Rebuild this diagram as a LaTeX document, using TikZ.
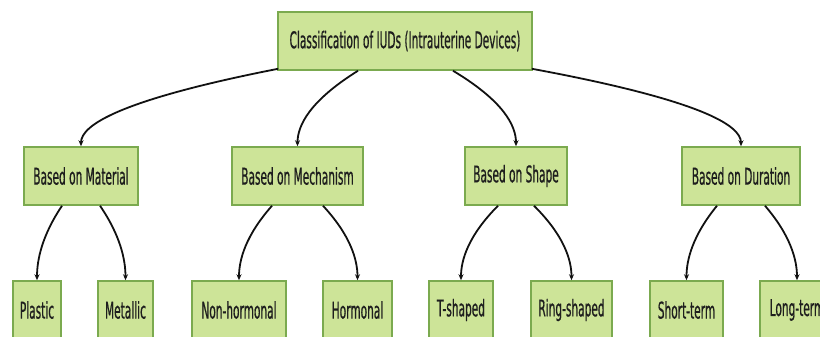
\documentclass[tikz,border=0pt]{standalone}
\usepackage{fontspec}
\usetikzlibrary{calc,arrows.meta}
\newfontfamily\boxfont{DejaVu Sans}[FakeStretch=0.46,FakeBold=0.6]
\definecolor{boxfill}{HTML}{CDE498}
\definecolor{boxline}{HTML}{7BAA4F}
\definecolor{boxtext}{HTML}{1E1E1E}
\definecolor{edgecol}{HTML}{111111}
\tikzset{
  box/.style={draw=boxline, fill=boxfill, line width=1.5pt, rectangle,
    minimum height=58pt, inner sep=0pt, text=boxtext,
    font=\boxfont\fontsize{23}{27}\selectfont},
  edge/.style={draw=edgecol, line width=1.8pt, -{Stealth[length=6pt,width=5pt]}}
}
\newcommand\curveedge[2]{%
  \path ($(#1)!0.5!(#2)$) coordinate (tmpm);
  \path (#2 |- tmpm) coordinate (tmpk);
  \draw[edge] (#1) .. controls ($(#1)!0.8!(tmpk)$) and ($(#2)!0.55!(tmpk)$) .. (#2);
}
\begin{document}
\begin{tikzpicture}[x=1pt,y=-1pt]
\useasboundingbox (0,0) rectangle (820,337);
\clip (0,0) rectangle (820,337);
\fill[white] (0,0) rectangle (820,337);
% root
\node[box, minimum width=254pt] (root) at (405,41) {Classification of IUDs (Intrauterine Devices)};
% level 2
\node[box, minimum width=114pt] (mat) at (81,176) {Based on Material};
\node[box, minimum width=131pt] (mech) at (297.5,176) {Based on Mechanism};
\node[box, minimum width=102pt] (shape) at (516,176) {Based on Shape};
\node[box, minimum width=118pt] (dur) at (741,176) {Based on Duration};
% level 3
\node[box, minimum width=48pt] (plastic) at (37,310) {Plastic};
\node[box, minimum width=55pt] (metal) at (125.5,310) {Metallic};
\node[box, minimum width=94pt] (nonh) at (239,310) {Non-hormonal};
\node[box, minimum width=69pt] (horm) at (357.5,310) {Hormonal};
\node[box, minimum width=64pt] (tsh) at (461,310) {T-shaped};
\node[box, minimum width=81pt] (ring) at (571.5,310) {Ring-shaped};
\node[box, minimum width=73pt] (short) at (686.5,310) {Short-term};
\node[box, minimum width=74pt] (long) at (797,310) {Long-term};
% start points
\coordinate (r1) at ([xshift=1pt,yshift=2pt]root.south west);
\coordinate (r2) at ([xshift=-47pt]root.south);
\coordinate (r3) at ([xshift=48pt]root.south);
\coordinate (r4) at ([xshift=-1pt,yshift=2pt]root.south east);
\coordinate (m1) at ([xshift=-19pt]mat.south);
\coordinate (m2) at ([xshift=19pt]mat.south);
\coordinate (h1) at ([xshift=-25.5pt]mech.south);
\coordinate (h2) at ([xshift=25.5pt]mech.south);
\coordinate (s1) at ([xshift=-18pt]shape.south);
\coordinate (s2) at ([xshift=18pt]shape.south);
\coordinate (d1) at ([xshift=-24pt]dur.south);
\coordinate (d2) at ([xshift=24pt]dur.south);
% edges
\curveedge{r1}{mat.north}
\curveedge{r2}{mech.north}
\curveedge{r3}{shape.north}
\curveedge{r4}{dur.north}
\curveedge{m1}{plastic.north}
\curveedge{m2}{metal.north}
\curveedge{h1}{nonh.north}
\curveedge{h2}{horm.north}
\curveedge{s1}{tsh.north}
\curveedge{s2}{ring.north}
\curveedge{d1}{short.north}
\curveedge{d2}{long.north}
\end{tikzpicture}
\end{document}
